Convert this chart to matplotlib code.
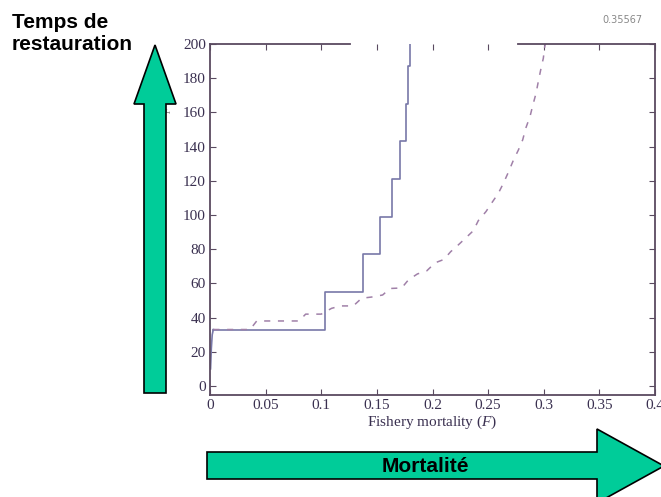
import matplotlib
matplotlib.use("Agg")
import matplotlib.pyplot as plt
from matplotlib.patches import Polygon

# ---- data ----
F_rise = [0.0005, 0.0012, 0.002, 0.003]
T_rise = [10, 22, 30, 33]

F_steps = [0.003, 0.1034, 0.1378, 0.1528, 0.1633, 0.1708, 0.1762, 0.1780, 0.1798]
T_steps = [33, 55, 77, 99, 121, 143, 165, 187, 200]

F_dash = [0.003, 0.036, 0.042, 0.080, 0.086, 0.100, 0.1093, 0.1177, 0.1288, 0.1363,
          0.1453, 0.1552, 0.1618, 0.1723, 0.1783, 0.1864, 0.1948, 0.2023, 0.2103,
          0.2163, 0.2232, 0.2301, 0.2367, 0.2412, 0.2481, 0.2532, 0.2592, 0.2637,
          0.2682, 0.2727, 0.2772, 0.2811, 0.2838, 0.2876, 0.2901, 0.2930, 0.2951,
          0.2973, 0.2996, 0.3009, 0.3015]
T_dash = [33, 33, 38, 38, 42, 42, 45.4, 46.8, 46.8, 51.3,
          52, 53.2, 57, 57.3, 62, 65.5, 67.3, 72, 74,
          78.5, 82.5, 86.7, 90.8, 96.7, 102, 107, 112.7, 118.5,
          125, 132, 138, 144, 150.7, 157.5, 164, 171, 178,
          185, 191.6, 198.4, 200]

x_ticks = [0, 0.05, 0.1, 0.15, 0.2, 0.25, 0.3, 0.35, 0.4]
x_ticklabels = ["0", "0.05", "0.1", "0.15", "0.2", "0.25", "0.3", "0.35", "0.4"]
y_ticks = [0, 20, 40, 60, 80, 100, 120, 140, 160, 180, 200]

W, H = 661, 497
plt.rcParams['mathtext.fontset'] = 'custom'
plt.rcParams['mathtext.it'] = 'Liberation Serif:italic'
plt.rcParams['mathtext.rm'] = 'Liberation Serif'

fig = plt.figure(figsize=(W / 100, H / 100), dpi=100)
fig.patch.set_facecolor("white")

def fx(x):
    return x / W

def fy(y):
    return 1 - y / H

ax = fig.add_axes([fx(210), fy(395), (655 - 210) / W, (395 - 44) / H])
tcol = "#3a3050"
scol = "#5a4a60"

ax.plot(F_rise, T_rise, color="#7878a8", lw=1.2)
ax.step(F_steps, T_steps, where="post", color="#7878a8", lw=1.2)
ax.plot(F_dash, T_dash, color="#a080a8", lw=1.1, dashes=(4, 5))

ax.set_xlim(0, 0.4)
ax.set_ylim(-5.3, 200)
ax.set_xticks(x_ticks)
ax.set_xticklabels(x_ticklabels)
ax.set_yticks(y_ticks)
ax.tick_params(direction="in", top=True, right=True, length=4, width=0.8,
               colors=scol, labelcolor=tcol, labelsize=11, pad=3)
for lab in ax.get_xticklabels() + ax.get_yticklabels():
    lab.set_fontfamily("Liberation Serif")
for s in ["left", "right", "bottom"]:
    ax.spines[s].set_color(scol)
    ax.spines[s].set_linewidth(1.3)
ax.spines["top"].set_visible(False)
# broken top frame as in the picture
ax.plot([0, 0.126], [200, 200], color=scol, lw=1.3, clip_on=False)
ax.plot([0.277, 0.4], [200, 200], color=scol, lw=1.3, clip_on=False)

ax.set_xlabel("Fishery mortality ($F$)", fontsize=11, color=tcol,
              fontfamily="Liberation Serif", labelpad=1)

fig.text(fx(622), fy(20), "0.35567", fontsize=7, color="#888888",
         ha="center", va="center", fontfamily="DejaVu Sans")
fig.text(fx(167), fy(110), "$F$", fontsize=7, color="#888888",
         ha="center", va="center", rotation=90)

green = "#00CC99"
up = [(155, 45), (176, 104), (166, 104), (166, 393), (144, 393), (144, 104), (134, 104)]
fig.patches.append(Polygon([(fx(x), fy(y)) for x, y in up], closed=True,
                           transform=fig.transFigure, facecolor=green,
                           edgecolor="black", lw=1.2, zorder=5))
right = [(207, 452), (597, 452), (597, 429), (664, 466), (597, 503), (597, 479), (207, 479)]
fig.patches.append(Polygon([(fx(x), fy(y)) for x, y in right], closed=True,
                           transform=fig.transFigure, facecolor=green,
                           edgecolor="black", lw=1.2, zorder=5))

fig.text(fx(425), fy(466), "Mortalité", fontsize=15, fontweight="bold",
         fontfamily="Liberation Sans", ha="center", va="center", color="black", zorder=6)
fig.text(fx(12), fy(28), "Temps de", fontsize=15, fontweight="bold",
         fontfamily="Liberation Sans", ha="left", va="baseline", color="black")
fig.text(fx(12), fy(50), "restauration", fontsize=15, fontweight="bold",
         fontfamily="Liberation Sans", ha="left", va="baseline", color="black")

fig.savefig("out.png", dpi=100)
